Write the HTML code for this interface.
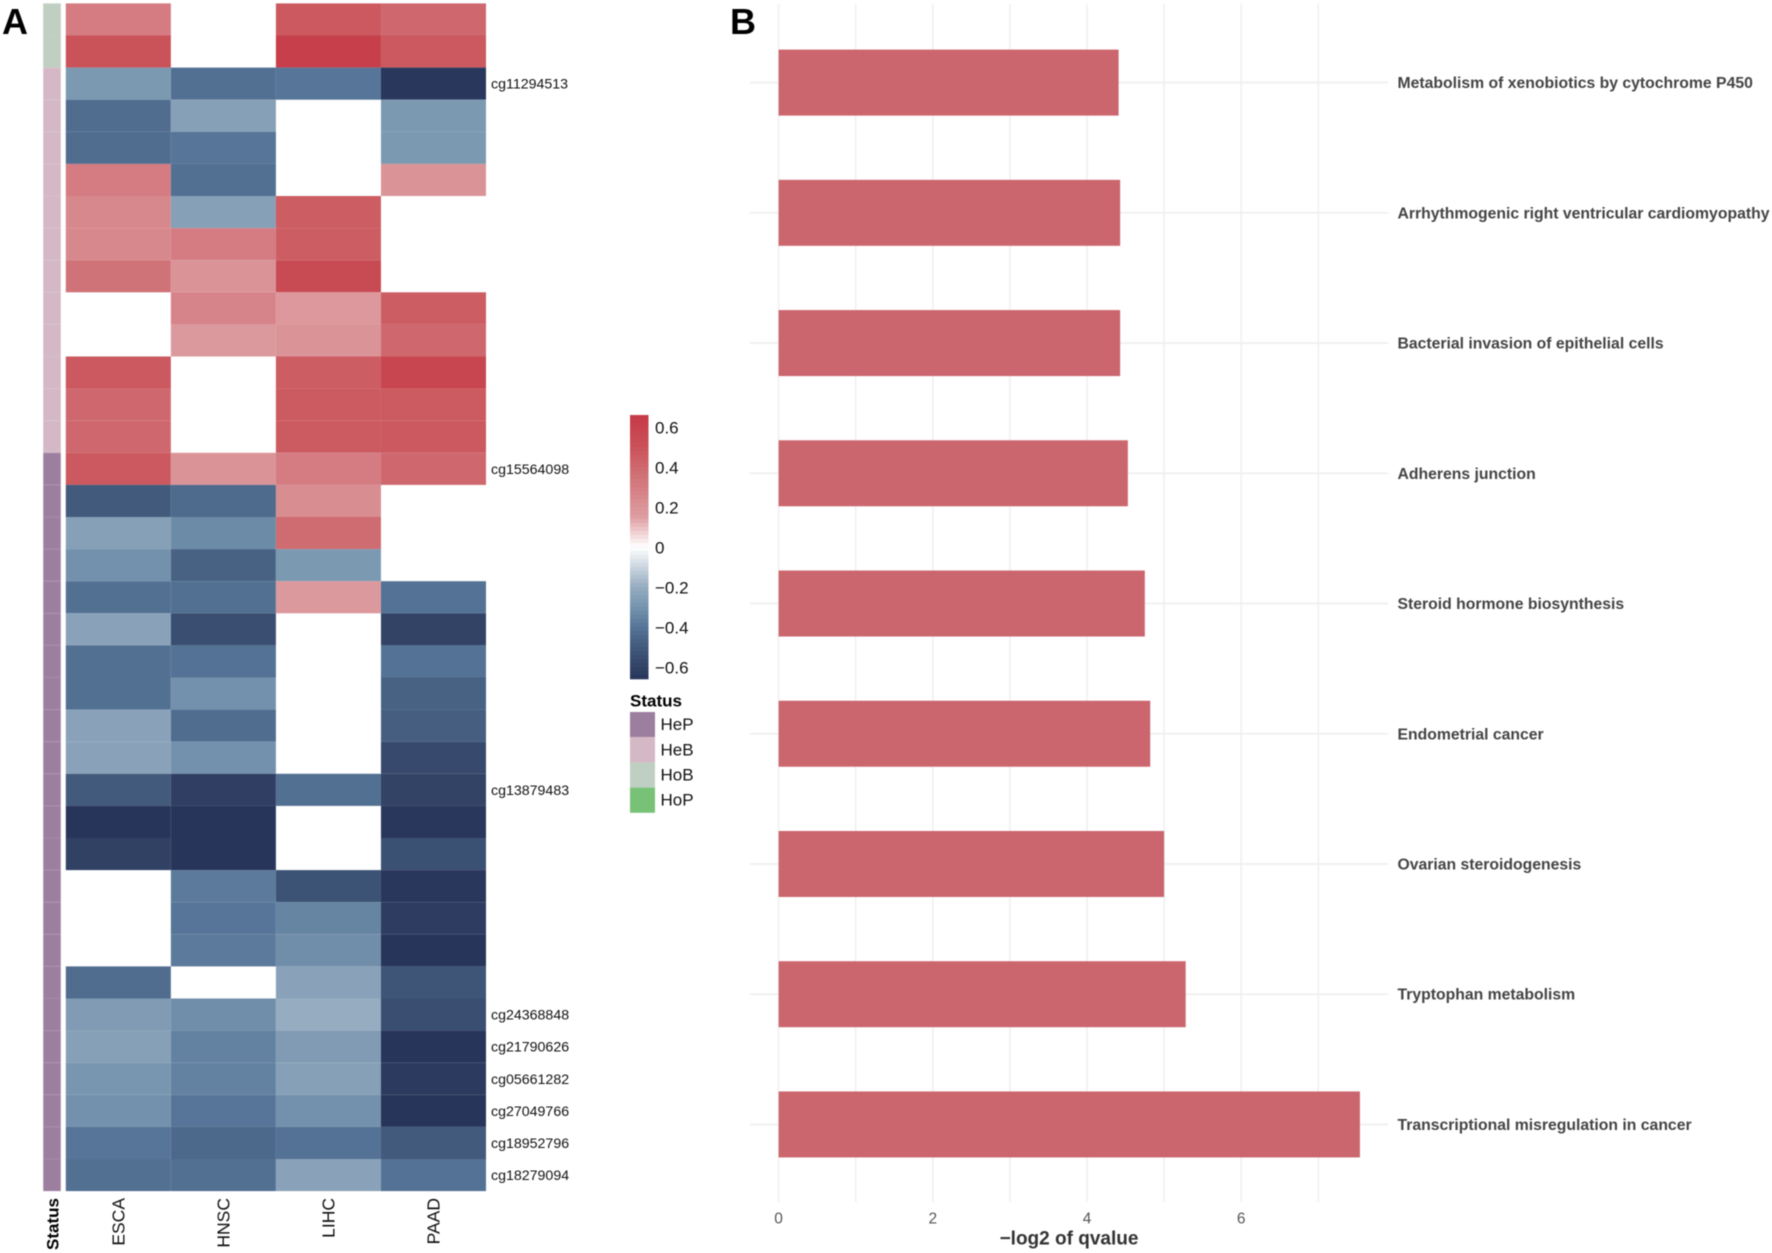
<!DOCTYPE html>
<html lang="en">
<head>
<meta charset="utf-8">
<title>Methylation heatmap and pathway enrichment</title>
<style>
html,body{margin:0;padding:0;background:#fff;}
svg{display:block;font-family:"Liberation Sans",sans-serif;filter:blur(0.45px);}
</style>
</head>
<body>
<svg id="figure" width="1772" height="1253" viewBox="0 0 1772 1253" xmlns="http://www.w3.org/2000/svg">
  <rect width="1772" height="1253" fill="#ffffff"/>
  <text x="2" y="34" font-size="36" font-weight="700" fill="#000">A</text>
  <text x="730" y="34" font-size="36" font-weight="700" fill="#000">B</text>
  <g id="heatmap"></g>
  <g id="colorbar"></g>
  <g id="status-legend">
    <text x="630" y="701" font-size="17" font-weight="700" dominant-baseline="central" fill="#000">Status</text>
  </g>
  <g id="barchart">
    <text x="1069" y="1239" font-size="19" font-weight="700" text-anchor="middle" dominant-baseline="central" fill="#333">−log2 of qvalue</text>
  </g>
</svg>
<script>
// Heatmap data
const cancerTypes = ['ESCA', 'HNSC', 'LIHC', 'PAAD'];
const escaValues = [0.30, 0.50, -0.28, -0.43, -0.43, 0.30, 0.25, 0.25, 0.35, null, null, 0.47, 0.40, 0.40, 0.47, -0.50, -0.25, -0.31, -0.42, -0.24, -0.42, -0.42, -0.24, -0.24, -0.50, -0.66, -0.61, null, null, null, -0.43, -0.27, -0.25, -0.29, -0.31, -0.40, -0.42];
const hnscValues = [null, null, -0.42, -0.25, -0.40, -0.42, -0.25, 0.30, 0.20, 0.27, 0.17, null, null, null, 0.20, -0.44, -0.33, -0.47, -0.42, -0.55, -0.41, -0.31, -0.43, -0.31, -0.62, -0.66, -0.66, -0.38, -0.40, -0.38, null, -0.32, -0.36, -0.36, -0.40, -0.45, -0.42];
const lihcValues = [0.47, 0.62, -0.40, null, null, null, 0.45, 0.45, 0.55, 0.18, 0.20, 0.45, 0.46, 0.46, 0.30, 0.23, 0.38, -0.28, 0.17, null, null, null, null, null, -0.42, null, null, -0.53, -0.35, -0.32, -0.24, -0.20, -0.27, -0.25, -0.31, -0.41, -0.24];
const paadValues = [0.40, 0.47, -0.65, -0.28, -0.28, 0.20, null, null, null, 0.45, 0.40, 0.58, 0.46, 0.47, 0.40, null, null, null, -0.41, -0.60, -0.41, -0.47, -0.48, -0.57, -0.60, -0.65, -0.54, -0.65, -0.63, -0.66, -0.52, -0.55, -0.66, -0.64, -0.66, -0.50, -0.41];
const probeLabels = [null, null, 'cg11294513', null, null, null, null, null, null, null, null, null, null, null, 'cg15564098', null, null, null, null, null, null, null, null, null, 'cg13879483', null, null, null, null, null, null, 'cg24368848', 'cg21790626', 'cg05661282', 'cg27049766', 'cg18952796', 'cg18279094'];
const statusGroups = ['HoB', 'HeB', 'HeP'];
const statusCounts = [2, 12, 23];
// Legend data
const colorbarTicks = [0.6, 0.4, 0.2, 0, -0.2, -0.4, -0.6];
const statusLegendNames = ['HeP', 'HeB', 'HoB', 'HoP'];
const statusLegendColors = ['#9C7F9F', '#D4B8C5', '#BFCFC2', '#78C278'];
// Bar chart data (top to bottom)
const pathways = ['Metabolism of xenobiotics by cytochrome P450', 'Arrhythmogenic right ventricular cardiomyopathy', 'Bacterial invasion of epithelial cells', 'Adherens junction', 'Steroid hormone biosynthesis', 'Endometrial cancer', 'Ovarian steroidogenesis', 'Tryptophan metabolism', 'Transcriptional misregulation in cancer'];
const qvalueScores = [4.41, 4.43, 4.43, 4.53, 4.75, 4.82, 5.00, 5.28, 7.54];
const xTickValues = [0, 2, 4, 6];
const xGridValues = [0, 1, 2, 3, 4, 5, 6, 7];

const NS = 'http://www.w3.org/2000/svg';
function make(tag, attrs, parent) {
  const el = document.createElementNS(NS, tag);
  for (const k in attrs) el.setAttribute(k, attrs[k]);
  parent.appendChild(el);
  return el;
}

// Colour scale
const colorStops = [[-0.66,[40,53,90]],[-0.5,[66,90,123]],[-0.4,[86,117,152]],[-0.3,[118,148,174]],[-0.2,[150,172,192]],[0,[255,255,255]],[0.15,[222,157,161]],[0.2,[218,148,152]],[0.3,[212,124,130]],[0.35,[208,115,120]],[0.5,[202,82,89]],[0.66,[197,57,70]]];
function colorOf(v) {
  if (v <= colorStops[0][0]) return 'rgb(' + colorStops[0][1].join(',') + ')';
  for (let i = 1; i < colorStops.length; i++) {
    if (v <= colorStops[i][0]) {
      const a = colorStops[i - 1], b = colorStops[i];
      const t = (v - a[0]) / (b[0] - a[0]);
      return 'rgb(' + a[1].map((c, j) => Math.round(c + (b[1][j] - c) * t)).join(',') + ')';
    }
  }
  return 'rgb(' + colorStops[colorStops.length - 1][1].join(',') + ')';
}

// Heatmap
const heat = document.getElementById('heatmap');
const columnData = [escaValues, hnscValues, lihcValues, paadValues];
const heatLeft = 65.8, heatColW = 105.05, heatTop = 3.4, heatRowH = 32.1;
const colX = i => heatLeft + i * heatColW;
const rowY = i => heatTop + i * heatRowH;
const statusColors = {HoB: '#BFCFC2', HeB: '#D4B8C5', HeP: '#9C7F9F'};

let rowCursor = 0;
statusGroups.forEach((group, g) => {
  for (let n = 0; n < statusCounts[g]; n++) {
    const s = make('rect', {x: 43.2, y: rowY(rowCursor), width: 17.6, height: heatRowH, fill: statusColors[group], stroke: '#fff', 'stroke-opacity': 0.08, 'stroke-width': 0.8}, heat);
    
    
    rowCursor++;
  }
});

columnData.forEach((values, c) => {
  values.forEach((v, r) => {
    if (v === null) return;
    const cell = make('rect', {x: colX(c), y: rowY(r), width: heatColW, height: heatRowH, fill: colorOf(v)}, heat);
    
    
  });
  const cx = colX(c) + heatColW / 2;
  const lab = make('text', {x: cx, y: 1198, 'font-size': 17.5, 'text-anchor': 'end', 'dominant-baseline': 'central', fill: '#111', transform: 'rotate(-90 ' + cx + ' 1198)'}, heat);
  lab.textContent = cancerTypes[c];
  
  
});

const statusAxis = make('text', {x: 52.8, y: 1198, 'font-size': 17, 'font-weight': 700, 'text-anchor': 'end', 'dominant-baseline': 'central', fill: '#000', transform: 'rotate(-90 52.8 1198)'}, heat);
statusAxis.textContent = 'Status';



probeLabels.forEach((label, r) => {
  if (!label) return;
  const t = make('text', {x: 491, y: rowY(r) + heatRowH / 2 + 1, 'font-size': 14.2, 'dominant-baseline': 'central', fill: '#111'}, heat);
  t.textContent = label;
  
  
});

// Colorbar
const cbar = document.getElementById('colorbar');
const cbarY = v => 547 - v * 200;
for (let i = 0; i < 66; i++) {
  const v = 0.66 - i * 0.02;
  const strip = make('rect', {x: 630, y: cbarY(v), width: 18.5, height: 4.3, fill: colorOf(v - 0.01)}, cbar);
  
  
}
colorbarTicks.forEach(v => {
  const t = make('text', {x: 655, y: cbarY(v) + 1, 'font-size': 17, 'dominant-baseline': 'central', fill: '#111'}, cbar);
  t.textContent = v === 0 ? '0' : (v < 0 ? '−' : '') + Math.abs(v).toFixed(1);
  
  
});

// Status legend
const sLegend = document.getElementById('status-legend');
statusLegendNames.forEach((name, i) => {
  const y = 712 + i * 25.2;
  const box = make('rect', {x: 630, y: y, width: 25, height: 25.2, fill: statusLegendColors[i]}, sLegend);
  
  
  const t = make('text', {x: 660.5, y: y + 12.6, 'font-size': 17, 'dominant-baseline': 'central', fill: '#111'}, sLegend);
  t.textContent = name;
  
  
});

// Bar chart
const bars = document.getElementById('barchart');
const xScale = v => 778.6 + v * 77.1;
const bandY = i => 82.6 + i * 130.23;
const barH = 66;
xGridValues.forEach(v => {
  const g = make('line', {x1: xScale(v), x2: xScale(v), y1: 4, y2: 1202, stroke: '#f0f0f0', 'stroke-width': 1.6}, bars);
  
  
});
pathways.forEach((name, i) => {
  const g = make('line', {x1: 750, x2: 1388, y1: bandY(i), y2: bandY(i), stroke: '#eeeeee', 'stroke-width': 1.6}, bars);
  
  
});
qvalueScores.forEach((v, i) => {
  const b = make('rect', {x: xScale(0), y: bandY(i) - barH / 2, width: xScale(v) - xScale(0), height: barH, fill: '#CC666E'}, bars);
  
  
  const t = make('text', {x: 1397.5, y: bandY(i) + 1, 'font-size': 15.75, 'font-weight': 700, 'dominant-baseline': 'central', fill: '#444'}, bars);
  t.textContent = pathways[i];
  
  
});
xTickValues.forEach(v => {
  const t = make('text', {x: xScale(v), y: 1219, 'font-size': 15.5, 'text-anchor': 'middle', 'dominant-baseline': 'central', fill: '#555'}, bars);
  t.textContent = String(v);
  
  
});
</script>
</body>
</html>
